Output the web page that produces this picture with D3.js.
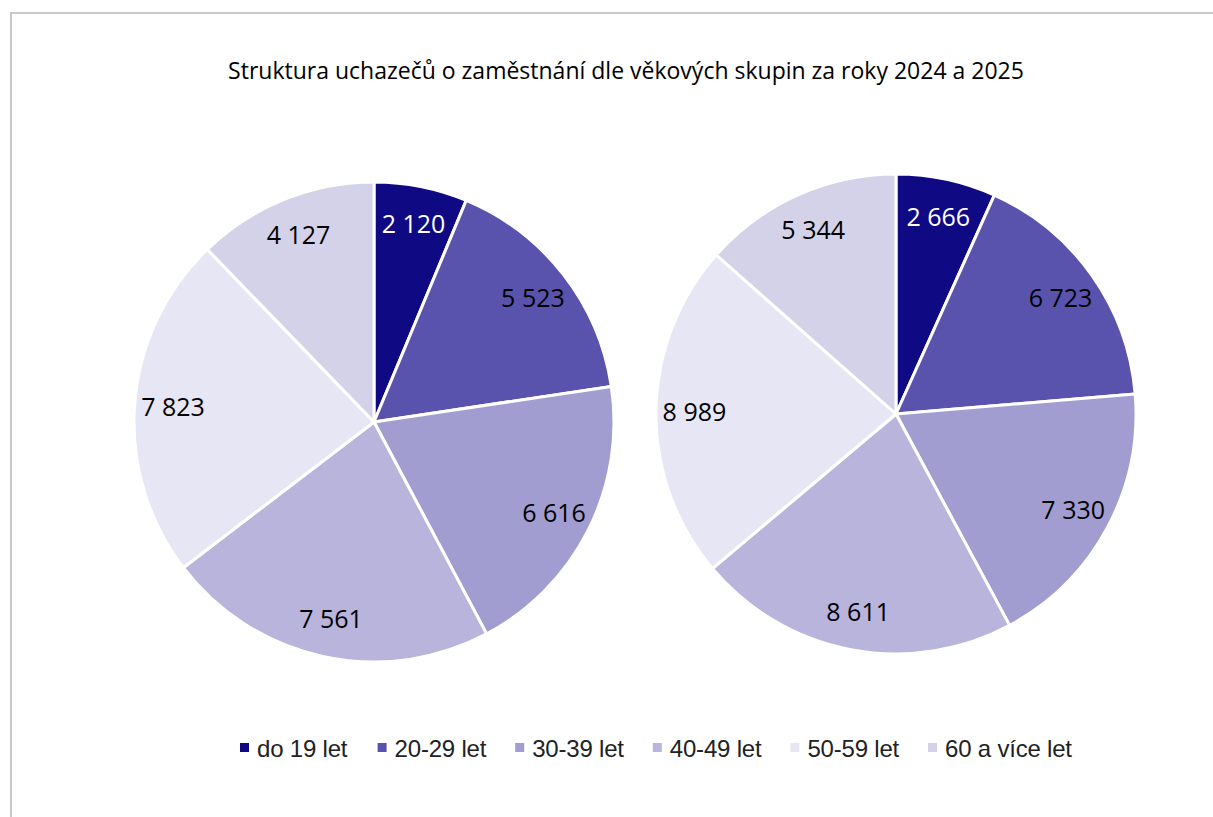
<!DOCTYPE html>
<html><head><meta charset="utf-8">
<script src="https://cdn.jsdelivr.net/npm/d3@7"></script>
<style>body{margin:0;background:#fff}svg{display:block}</style>
</head><body>
<svg id="c" width="1213" height="817"></svg>
<script>
const categories = ["do 19 let","20-29 let","30-39 let","40-49 let","50-59 let","60 a více let"];
const values2024 = [2120,5523,6616,7561,7823,4127];
const values2025 = [2666,6723,7330,8611,8989,5344];
const colors = ["#0f0a84","#5a53ad","#a19dd0","#b8b4dc","#e7e6f4","#d3d2e8"];
const labelColors = ["#ffffff","#000000","#000000","#000000","#000000","#000000"];
const title = "Struktura uchazečů o zaměstnání dle věkových skupin za roky 2024 a 2025";

const svg = d3.select("#c");
svg.append("rect").attr("x",11).attr("y",13).attr("width",1300).attr("height",900)
  .attr("fill","none").attr("stroke","#c8c8c8").attr("stroke-width",2);

svg.append("text").attr("x",626).attr("y",79).attr("text-anchor","middle")
  .attr("font-family","'Open Sans', sans-serif").attr("font-size",23)
  .attr("fill","#000").text(title);

const color = d3.scaleOrdinal().domain(categories).range(colors);
const pie = d3.pie().sort(null);
const R = 240;
const arc = d3.arc().innerRadius(0).outerRadius(R);
const labelArc = d3.arc().innerRadius(R*0.84).outerRadius(R*0.84);
const fmt = v => d3.format(",")(v).replace(/,/g," ");

function drawPie(vals, cx, cy){
  const g = svg.append("g").attr("transform",`translate(${cx},${cy})`);
  const arcs = pie(vals);
  g.selectAll("path").data(arcs).join("path")
    .attr("d",arc).attr("fill",(d,i)=>color(categories[i]))
    .attr("stroke","#fff").attr("stroke-width",3).attr("stroke-linejoin","round");
  g.selectAll("text").data(arcs).join("text")
    .attr("transform",d=>`translate(${labelArc.centroid(d)})`)
    .attr("text-anchor","middle").attr("dy","0.36em")
    .attr("font-family","'Open Sans', sans-serif").attr("font-size",25)
    .attr("fill",(d,i)=>labelColors[i]).text(d=>fmt(d.data));
}
drawPie(values2024, 374, 422);
drawPie(values2025, 896, 414);

const legendX = d3.scalePoint().domain(categories).range([240, 928]);
const lg = svg.append("g");
const items = lg.selectAll("g").data(categories).join("g")
  .attr("transform",d=>`translate(${legendX(d)},748)`);
items.append("rect").attr("x",0).attr("y",-5).attr("width",9).attr("height",9).attr("fill",d=>color(d));
items.append("text").attr("x",17).attr("y",0).attr("dy","0.36em")
  .attr("font-family","'Liberation Sans Narrow', 'Arial Narrow', sans-serif").attr("font-size",24)
  .attr("letter-spacing",-0.2).attr("fill","#222").text(d=>d);
</script>
</body></html>
